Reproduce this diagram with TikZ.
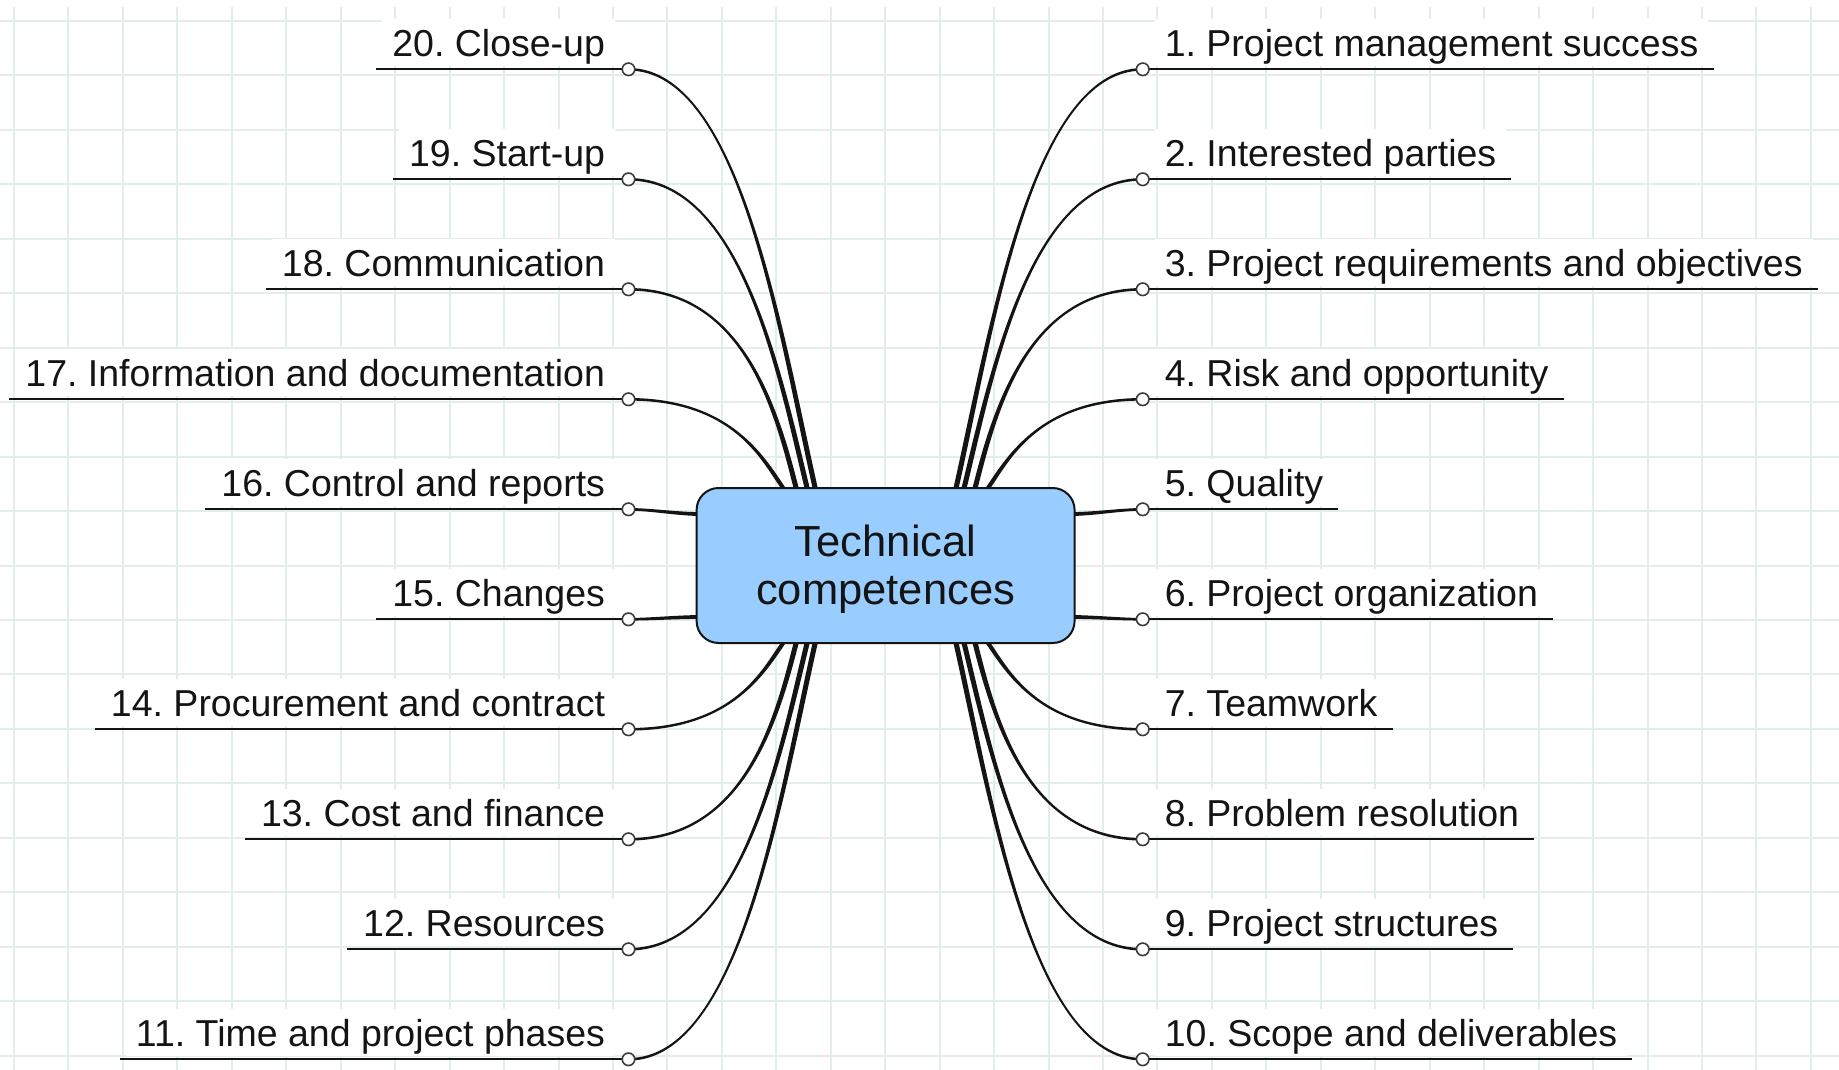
\documentclass[tikz,border=0pt]{standalone}
\usepackage{fontspec}
\setmainfont{Liberation Sans}
\frenchspacing
\usetikzlibrary{calc}
\pgfdeclarelayer{gridlayer}
\pgfdeclarelayer{linklayer}
\pgfsetlayers{gridlayer,linklayer,main}
\definecolor{gridc}{RGB}{228,237,237}
\definecolor{nodefill}{RGB}{153,204,255}
\definecolor{inkc}{RGB}{20,20,20}
\definecolor{dotc}{RGB}{60,60,60}
% tapered branch: start, ctrl1 rel start, ctrl2 rel end, end, start half-width vector, end half-width vector
\newcommand\tbranch[6]{%
  \fill[inkc] ($(#1)+(#5)$) .. controls ($(#1)+(#2)+(#5)$) and ($(#4)+(#3)+(#6)$) .. ($(#4)+(#6)$)
    -- ($(#4)-(#6)$) .. controls ($(#4)+(#3)-(#6)$) and ($(#1)+(#2)-(#5)$) .. ($(#1)-(#5)$) -- cycle;}
\tikzset{
  hubbox/.style={draw=inkc, line width=2pt, fill=nodefill, rounded corners=22pt,
    minimum width=378pt, minimum height=155pt, align=center, inner sep=0pt,
    font=\fontsize{43.5}{48.4}\selectfont, text=inkc},
  lblL/.style={anchor=base east, fill=white, inner xsep=10pt, inner ysep=10pt,
    text height=27pt, text depth=0pt, font=\fontsize{37.5}{44}\selectfont, text=inkc},
  lblR/.style={lblL, anchor=base west},
  uline/.style={line width=2pt, draw=inkc},
  dot/.style={circle, draw=dotc, line width=1.6pt, fill=white, minimum size=12.5pt, inner sep=0pt},
  gridline/.style={draw=gridc, line width=2pt}
}
\begin{document}
\begin{tikzpicture}[x=1pt,y=-1pt]
\useasboundingbox (0,0) rectangle (1839,1070);
\begin{pgfonlayer}{gridlayer}
  \fill[white] (0,0) rectangle (1839,1070);
  \foreach \i in {0,...,33} \draw[gridline] ({14+54.45*\i},7) -- ({14+54.45*\i},1070);
  \foreach \j in {0,...,19} \draw[gridline] (0,{21+54.45*\j}) -- (1839,{21+54.45*\j});
\end{pgfonlayer}

\node[hubbox] (tc) at (885.6,565.5) {\rule{0pt}{39pt}Technical\\competences};

\foreach \n/\k/\txt in {20/0/20. Close-up,19/1/19. Start-up,18/2/18. Communication,17/3/17. Information and documentation,16/4/16. Control and reports,15/5/15. Changes,14/6/14. Procurement and contract,13/7/13. Cost and finance,12/8/12. Resources,11/9/11. Time and project phases}{
  \coordinate (p\n) at (628.5,{69.3+110*\k});
  \node[lblL] (l\n) at ($(p\n)+(-13.3,-13)$) {\txt};
  \draw[uline] (p\n) -- ($(l\n.west |- p\n)+(-6,0)$);
  \node[dot] (d\n) at (p\n) {};
}
\foreach \n/\k/\txt in {1/0/1. Project management success,2/1/2. Interested parties,3/2/3. Project requirements and objectives,4/3/4. Risk and opportunity,5/4/5. Quality,6/5/6. Project organization,7/6/7. Teamwork,8/7/8. Problem resolution,9/8/9. Project structures,10/9/10. Scope and deliverables}{
  \coordinate (p\n) at (1142.7,{69.3+110*\k});
  \node[lblR] (l\n) at ($(p\n)+(11.9,-13)$) {\txt};
  \draw[uline] (p\n) -- ($(l\n.east |- p\n)+(5,0)$);
  \node[dot] (d\n) at (p\n) {};
}

% branch end points on the central node
\coordinate (e20) at ($(tc.north)+(-70,3)$);
\coordinate (e19) at ($(tc.north)+(-78,3)$);
\coordinate (e18) at ($(tc.north)+(-89,3)$);
\coordinate (e17) at ($(tc.north)+(-101,3)$);
\coordinate (e1) at ($(tc.north)+(70,3)$);
\coordinate (e2) at ($(tc.north)+(78,3)$);
\coordinate (e3) at ($(tc.north)+(89,3)$);
\coordinate (e4) at ($(tc.north)+(101,3)$);
\coordinate (e11) at ($(tc.south)+(-70,-3)$);
\coordinate (e12) at ($(tc.south)+(-78,-3)$);
\coordinate (e13) at ($(tc.south)+(-89,-3)$);
\coordinate (e14) at ($(tc.south)+(-101,-3)$);
\coordinate (e10) at ($(tc.south)+(70,-3)$);
\coordinate (e9) at ($(tc.south)+(78,-3)$);
\coordinate (e8) at ($(tc.south)+(89,-3)$);
\coordinate (e7) at ($(tc.south)+(101,-3)$);
\coordinate (e16) at ($(tc.west)+(3,-51.5)$);
\coordinate (e15) at ($(tc.west)+(3,51.5)$);
\coordinate (e5) at ($(tc.east)+(-3,-51.5)$);
\coordinate (e6) at ($(tc.east)+(-3,51.5)$);

\begin{pgfonlayer}{linklayer}
  \tbranch{d20}{111.5,0}{-35.6,-158}{e20}{0,-1.3}{2.6,0}
  \tbranch{d19}{113,0}{-28,-115}{e19}{0,-1.3}{2.6,0}
  \tbranch{d18}{115,0}{-20,-80}{e18}{0,-1.3}{2.6,0}
  \tbranch{d17}{106.5,0}{-20,-28}{e17}{0,-1.3}{2.5,0}
  \tbranch{d1}{-111.5,0}{35.6,-158}{e1}{0,-1.3}{-2.6,0}
  \tbranch{d2}{-113,0}{28,-115}{e2}{0,-1.3}{-2.6,0}
  \tbranch{d3}{-115,0}{20,-80}{e3}{0,-1.3}{-2.6,0}
  \tbranch{d4}{-106.5,0}{20,-28}{e4}{0,-1.3}{-2.5,0}
  \tbranch{d11}{111.5,0}{-35.6,158}{e11}{0,1.3}{2.6,0}
  \tbranch{d12}{113,0}{-28,115}{e12}{0,1.3}{2.6,0}
  \tbranch{d13}{115,0}{-20,80}{e13}{0,1.3}{2.6,0}
  \tbranch{d14}{106.5,0}{-20,28}{e14}{0,1.3}{2.5,0}
  \tbranch{d10}{-111.5,0}{35.6,158}{e10}{0,1.3}{-2.6,0}
  \tbranch{d9}{-113,0}{28,115}{e9}{0,1.3}{-2.6,0}
  \tbranch{d8}{-115,0}{20,80}{e8}{0,1.3}{-2.6,0}
  \tbranch{d7}{-106.5,0}{20,28}{e7}{0,1.3}{-2.5,0}
  \tbranch{d16}{20,0}{-20,0}{e16}{0,-1.3}{0,-1.9}
  \tbranch{d15}{20,0}{-20,0}{e15}{0,-1.3}{0,-1.9}
  \tbranch{d5}{-20,0}{20,0}{e5}{0,-1.3}{0,-1.9}
  \tbranch{d6}{-20,0}{20,0}{e6}{0,-1.3}{0,-1.9}
\end{pgfonlayer}
\end{tikzpicture}
\end{document}
